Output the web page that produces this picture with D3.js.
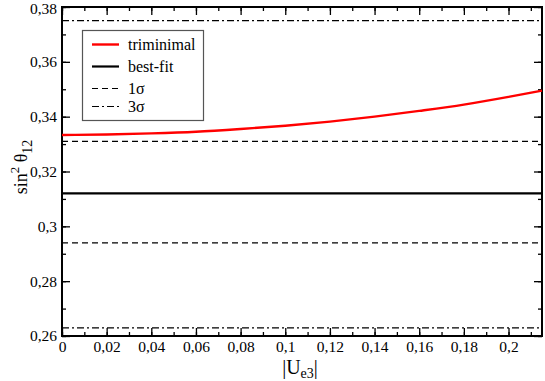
<!DOCTYPE html>
<html>
<head>
<meta charset="utf-8">
<title>sin2 theta12 vs |Ue3|</title>
<script src="https://cdn.jsdelivr.net/npm/d3@7"></script>
<style>
* { margin: 0; padding: 0; }
body { background: #fff; width: 545px; height: 381px; overflow: hidden; }
</style>
</head>
<body>
<div id="chart"></div>
<script>
// triminimal curve
var ue3 = [0, 0.02, 0.04, 0.06, 0.08, 0.10, 0.12, 0.14, 0.16, 0.18, 0.20, 0.215];
var triminimal = [0.3333, 0.3335, 0.3339, 0.3345, 0.3355, 0.3367, 0.3382, 0.3400, 0.3421, 0.3444, 0.3472, 0.3495];

// horizontal reference levels
var bestFit = 0.312;
var sigma1 = [0.331, 0.294];
var sigma3 = [0.375, 0.263];

var xTicks = [0, 0.02, 0.04, 0.06, 0.08, 0.1, 0.12, 0.14, 0.16, 0.18, 0.2];
var yTicks = [0.26, 0.28, 0.3, 0.32, 0.34, 0.36, 0.38];

var legendNames = ["triminimal", "best-fit", "1σ", "3σ"];

var SERIF = "'Liberation Serif', 'Times New Roman', Times, serif";
var W = 545, H = 381;
var m = {left: 62, right: 3, top: 7, bottom: 45};

var svg = d3.select("#chart").append("svg")
  .attr("width", W).attr("height", H)
  .style("font-family", SERIF);

var x = d3.scaleLinear().domain([0, 0.215]).range([m.left, W - m.right]);
var y = d3.scaleLinear().domain([0.26, 0.38]).range([H - m.bottom, m.top]);

var fmt = function(d) { return d3.format("~g")(d).replace(".", ","); };

// minor ticks every 0.01
var xMinor = d3.range(0, 0.2151, 0.01);
var yMinor = d3.range(0.26, 0.3801, 0.01);

var axes = svg.append("g");
axes.append("g").attr("transform", "translate(0," + y.range()[0] + ")")
  .call(d3.axisBottom(x).tickValues(xMinor).tickSize(-4).tickFormat(""));
axes.append("g").attr("transform", "translate(0," + y.range()[0] + ")")
  .call(d3.axisBottom(x).tickValues(xTicks).tickSize(-8).tickPadding(5).tickFormat(fmt));
axes.append("g").attr("transform", "translate(0," + y.range()[1] + ")")
  .call(d3.axisTop(x).tickValues(xMinor).tickSize(-4).tickFormat(""));
axes.append("g").attr("transform", "translate(0," + y.range()[1] + ")")
  .call(d3.axisTop(x).tickValues(xTicks).tickSize(-8).tickFormat(""));
axes.append("g").attr("transform", "translate(" + x.range()[0] + ",0)")
  .call(d3.axisLeft(y).tickValues(yMinor).tickSize(-4).tickFormat(""));
var yAx = axes.append("g").attr("transform", "translate(" + x.range()[0] + ",0)")
  .call(d3.axisLeft(y).tickValues(yTicks).tickSize(-8).tickPadding(5).tickFormat(fmt));
axes.append("g").attr("transform", "translate(" + x.range()[1] + ",0)")
  .call(d3.axisRight(y).tickValues(yMinor).tickSize(-4).tickFormat(""));
axes.append("g").attr("transform", "translate(" + x.range()[1] + ",0)")
  .call(d3.axisRight(y).tickValues(yTicks).tickSize(-8).tickFormat(""));

axes.selectAll("g").attr("font-family", SERIF);
axes.selectAll(".domain").remove();
axes.selectAll("line").attr("stroke", "#000").attr("stroke-width", 1.3);
axes.selectAll("text").attr("font-size", 15.5).style("font-family", SERIF);
// keep the top label inside the picture
yAx.selectAll("text").filter(function(d) { return d === 0.38; }).attr("dy", "0.45em");

// frame
svg.append("rect")
  .attr("x", x.range()[0]).attr("y", y.range()[1])
  .attr("width", x.range()[1] - x.range()[0])
  .attr("height", y.range()[0] - y.range()[1])
  .attr("fill", "none").attr("stroke", "#000").attr("stroke-width", 2);

function hline(v, dash, w) {
  svg.append("line")
    .attr("x1", x.range()[0]).attr("x2", x.range()[1])
    .attr("y1", y(v)).attr("y2", y(v))
    .attr("stroke", "#000").attr("stroke-width", w)
    .attr("stroke-dasharray", dash);
}
sigma3.forEach(function(v) { hline(v, "7,3,2,3", 1.2); });
sigma1.forEach(function(v) { hline(v, "6,4", 1.2); });
hline(bestFit, null, 2.2);

var line = d3.line()
  .x(function(d, i) { return x(ue3[i]); })
  .y(function(d) { return y(d); })
  .curve(d3.curveMonotoneX);
svg.append("path").datum(triminimal)
  .attr("d", line).attr("fill", "none")
  .attr("stroke", "#ff0000").attr("stroke-width", 2.4);

// legend
var lg = svg.append("g");
lg.append("rect").attr("x", 82.5).attr("y", 30.5).attr("width", 121).attr("height", 90)
  .attr("fill", "#fff").attr("stroke", "#555").attr("stroke-width", 1.2);
var styles = [
  {c: "#ff0000", w: 2.4, d: null},
  {c: "#000", w: 2.2, d: null},
  {c: "#000", w: 1.2, d: "6,4"},
  {c: "#000", w: 1.2, d: "7,3,2,3"}
];
var ly = [44.5, 66.5, 88.5, 106.5];
legendNames.forEach(function(n, i) {
  lg.append("line").attr("x1", 92).attr("x2", 119).attr("y1", ly[i]).attr("y2", ly[i])
    .attr("stroke", styles[i].c).attr("stroke-width", styles[i].w)
    .attr("stroke-dasharray", styles[i].d);
  lg.append("text").attr("x", 128).attr("y", ly[i] + 5.5)
    .attr("font-size", 16).text(n);
});

// axis titles
var xt = svg.append("text").attr("x", 300).attr("y", 374)
  .attr("text-anchor", "middle").attr("font-size", 20);
xt.append("tspan").text("|U");
xt.append("tspan").attr("font-size", 14).attr("dy", 4).text("e3");
xt.append("tspan").attr("dy", -4).text("|");

var yt = svg.append("text")
  .attr("transform", "translate(27,167) rotate(-90)")
  .attr("text-anchor", "middle").attr("font-size", 18);
yt.append("tspan").text("sin");
yt.append("tspan").attr("font-size", 13).attr("dy", -8).text("2");
yt.append("tspan").attr("dy", 8).text(" θ");
yt.append("tspan").attr("font-size", 14).attr("dy", 5).text("12");
</script>
</body>
</html>
